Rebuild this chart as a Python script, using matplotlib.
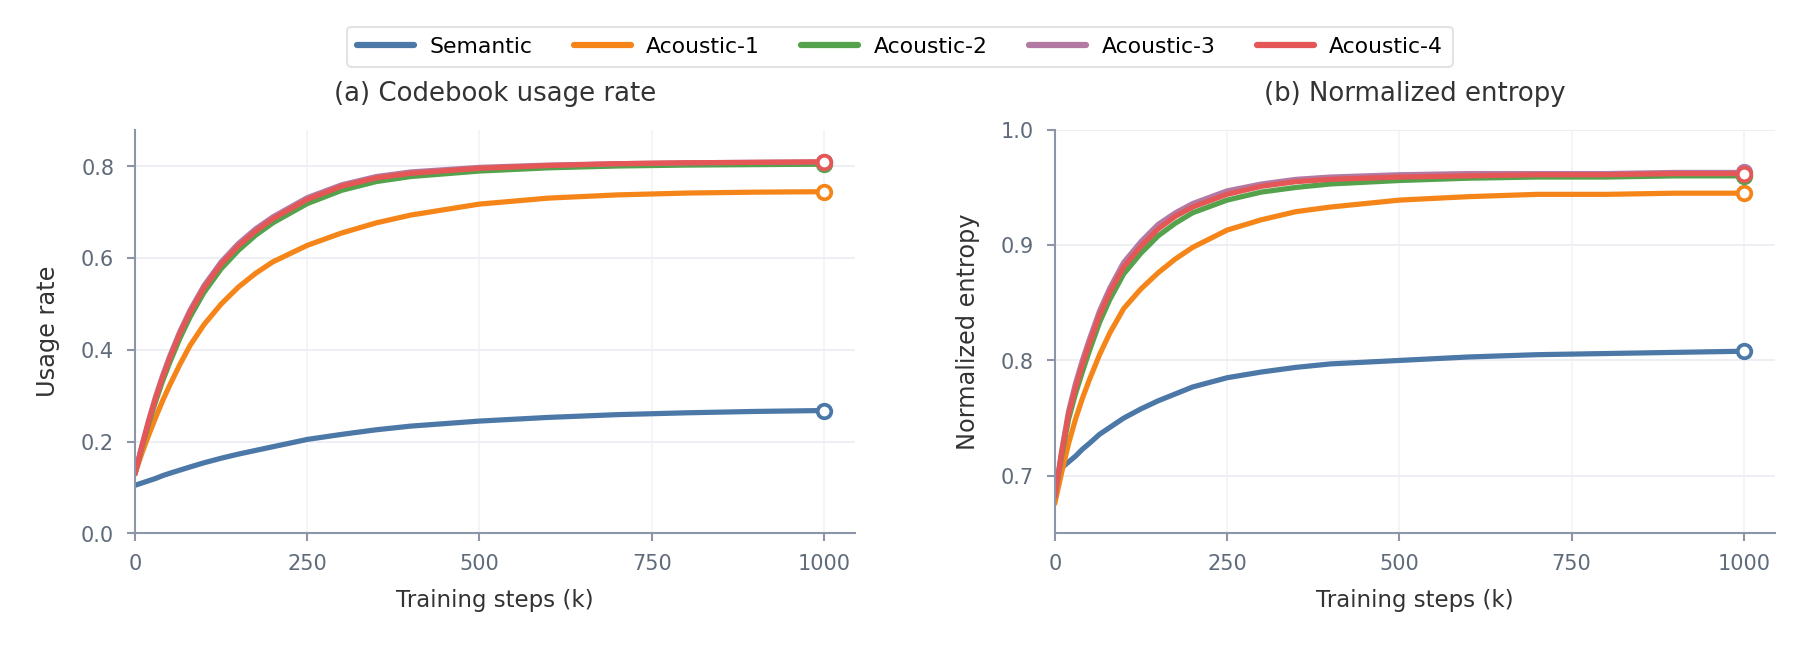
import matplotlib
matplotlib.use("Agg")
import matplotlib.pyplot as plt

# training steps (k)
steps = [0, 10, 20, 30, 40, 50, 65, 80, 100, 125, 150, 175, 200,
         250, 300, 350, 400, 500, 600, 700, 800, 900, 1000]

names = ["Semantic", "Acoustic-1", "Acoustic-2", "Acoustic-3", "Acoustic-4"]
colors = ["#4c78a8", "#f58518", "#54a24b", "#b279a2", "#e45756"]

# (a) codebook usage rate
usage_semantic = [0.105, 0.110, 0.115, 0.120, 0.126, 0.131, 0.138, 0.145, 0.154, 0.164, 0.173, 0.181, 0.189,
                  0.205, 0.216, 0.226, 0.234, 0.245, 0.253, 0.259, 0.263, 0.266, 0.268]
usage_ac1 = [0.130, 0.175, 0.215, 0.253, 0.289, 0.322, 0.368, 0.410, 0.455, 0.500, 0.537, 0.567, 0.592,
             0.628, 0.655, 0.677, 0.694, 0.718, 0.731, 0.738, 0.742, 0.744, 0.745]
usage_ac2 = [0.130, 0.187, 0.240, 0.288, 0.332, 0.371, 0.425, 0.472, 0.525, 0.577, 0.617, 0.650, 0.677,
             0.719, 0.748, 0.767, 0.778, 0.790, 0.797, 0.801, 0.803, 0.804, 0.805]
usage_ac3 = [0.130, 0.192, 0.248, 0.299, 0.344, 0.385, 0.440, 0.487, 0.540, 0.592, 0.632, 0.664, 0.690,
             0.732, 0.760, 0.778, 0.788, 0.798, 0.803, 0.806, 0.808, 0.809, 0.810]
usage_ac4 = [0.130, 0.190, 0.245, 0.295, 0.340, 0.380, 0.435, 0.482, 0.535, 0.587, 0.627, 0.659, 0.686,
             0.728, 0.757, 0.775, 0.785, 0.796, 0.802, 0.806, 0.808, 0.809, 0.810]

# (b) normalized entropy
ent_semantic = [0.702, 0.707, 0.712, 0.717, 0.723, 0.728, 0.736, 0.742, 0.750, 0.758, 0.765, 0.771, 0.777,
                0.785, 0.790, 0.794, 0.797, 0.800, 0.803, 0.805, 0.806, 0.807, 0.808]
ent_ac1 = [0.676, 0.703, 0.728, 0.749, 0.767, 0.783, 0.805, 0.824, 0.845, 0.862, 0.876, 0.888, 0.898,
           0.913, 0.922, 0.929, 0.933, 0.939, 0.942, 0.944, 0.944, 0.945, 0.945]
ent_ac2 = [0.682, 0.717, 0.749, 0.771, 0.790, 0.808, 0.833, 0.853, 0.875, 0.893, 0.908, 0.919, 0.928,
           0.939, 0.946, 0.950, 0.953, 0.956, 0.958, 0.959, 0.959, 0.960, 0.960]
ent_ac3 = [0.682, 0.722, 0.756, 0.780, 0.800, 0.818, 0.843, 0.863, 0.885, 0.903, 0.918, 0.928, 0.936,
           0.947, 0.953, 0.957, 0.959, 0.961, 0.962, 0.962, 0.962, 0.963, 0.963]
ent_ac4 = [0.682, 0.720, 0.753, 0.776, 0.796, 0.814, 0.839, 0.859, 0.881, 0.899, 0.914, 0.925, 0.933,
           0.944, 0.951, 0.955, 0.957, 0.959, 0.960, 0.961, 0.961, 0.962, 0.962]

usage = [usage_semantic, usage_ac1, usage_ac2, usage_ac3, usage_ac4]
entropy = [ent_semantic, ent_ac1, ent_ac2, ent_ac3, ent_ac4]

spine_col = "#8c96a8"
tick_col = "#5f6b7a"

fig = plt.figure(figsize=(12, 4.327), dpi=150)
ax1 = fig.add_axes([0.075, 0.178, 0.400, 0.622])
ax2 = fig.add_axes([0.586, 0.178, 0.400, 0.622])


def style(ax):
    for s in ["top", "right"]:
        ax.spines[s].set_visible(False)
    for s in ["left", "bottom"]:
        ax.spines[s].set_color(spine_col)
        ax.spines[s].set_linewidth(1.0)
    ax.tick_params(colors=spine_col, labelcolor=tick_col, labelsize=10, length=4, width=1.0, pad=6)
    ax.grid(True, axis="y", color="#eceff4", linewidth=0.9)
    ax.grid(True, axis="x", color="#f3f4f7", linewidth=0.8)
    ax.set_axisbelow(True)
    ax.set_xlim(0, 1045)
    ax.set_xticks([0, 250, 500, 750, 1000])
    ax.set_xlabel("Training steps (k)", fontsize=11, color="#333333", labelpad=7)


for ax, data in [(ax1, usage), (ax2, entropy)]:
    style(ax)
    for name, col, vals in zip(names, colors, data):
        ax.plot(steps, vals, color=col, lw=2.5, label=name, solid_capstyle="round")
        ax.plot(steps[-1], vals[-1], "o", ms=6.5, mfc="white", mec=col, mew=1.8, zorder=5)

ax1.set_ylim(0, 0.88)
ax1.set_yticks([0.0, 0.2, 0.4, 0.6, 0.8])
ax1.set_ylabel("Usage rate", fontsize=11.5, color="#333333", labelpad=10)
ax1.set_title("(a) Codebook usage rate", fontsize=12.5, color="#333333", pad=14)

ax2.set_ylim(0.65, 1.0)
ax2.set_yticks([0.7, 0.8, 0.9, 1.0])
ax2.set_ylabel("Normalized entropy", fontsize=11.5, color="#333333", labelpad=10)
ax2.set_title("(b) Normalized entropy", fontsize=12.5, color="#333333", pad=14)

handles, labels = ax1.get_legend_handles_labels()
leg = fig.legend(handles, labels, loc="upper center", bbox_to_anchor=(0.5, 0.975), ncol=5,
                 fontsize=10.5, frameon=True, handlelength=2.6, columnspacing=1.9,
                 handletextpad=0.7, borderpad=0.45)
leg.get_frame().set_edgecolor("#dddddd")
for line in leg.get_lines():
    line.set_linewidth(3)

fig.savefig("out.png", dpi=150)
